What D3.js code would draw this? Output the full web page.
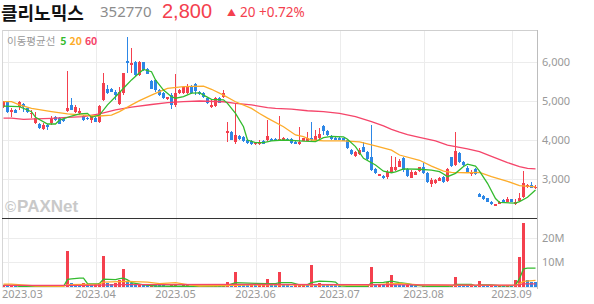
<!DOCTYPE html>
<html>
<head>
<meta charset="utf-8">
<title>클리노믹스 chart</title>
<script src="https://cdn.jsdelivr.net/npm/d3@7"></script>
<style>
  body { margin: 0; background: #fff; }
  svg { display: block; font-family: "Noto Sans", "Noto Sans CJK KR", sans-serif; }
  .axis text { fill: #999; font-size: 11px; }
</style>
</head>
<body>
<svg id="chart"></svg>
<script>
// daily candles, 2023-02-28 .. 2023-09-11 (one entry per trading day)
var opens = [4850,4980,4730,4770,4840,4920,4810,4670,4430,4410,4280,4380,4430,4600,4560,4530,4740,4900,4730,4680,
  4620,4570,4510,4560,4470,5030,5320,5300,5240,4920,5200,6030,5920,6010,5670,6000,5820,5520,5540,5280,
  5200,5040,5150,4900,5200,5200,5200,5380,5430,5240,5200,5070,4840,4870,5070,5090,4190,4210,3960,4100,
  4070,4000,3980,3900,3900,3970,4000,4030,4030,3990,4000,4030,4020,3960,3890,3980,3980,4040,4000,4040,
  4360,4240,4100,4060,4060,4040,4000,3740,3590,3640,3830,3700,3560,3250,3080,3080,3060,3190,3230,3320,
  3530,3250,3030,3100,3210,3320,3150,2870,2890,2960,3040,2960,3560,3360,3660,3440,3270,3130,3250,2610,
  2560,2500,2420,2310,2360,2460,2420,2480,2350,2440,2530,2790,2850,2760];
var highs = [5010,5010,4810,4790,5010,4940,4830,4770,4730,4430,4430,4410,4620,4620,4580,4550,5780,5070,4900,4810,
  4640,4590,4640,4580,4900,5730,5410,5340,5280,5370,5730,6630,6350,6030,6020,6010,5840,5540,5560,5300,
  5220,5110,5200,5690,5300,5370,5440,5400,5450,5260,5220,5090,5040,5090,5090,5270,4470,4230,4940,4130,
  4090,4020,4000,3950,4000,3990,4510,4040,4040,4620,4070,4040,4040,3970,4340,4060,4210,4470,4260,4300,
  4380,4250,4130,4080,4080,4060,4020,3760,3710,3790,3960,3730,4380,3270,3140,3100,3230,3590,3560,3500,
  3570,3270,3230,3200,3320,3400,3170,3020,2990,3040,3080,3270,3570,4210,3700,3460,3330,3230,3270,2640,
  2580,2510,2440,2370,2430,2480,2530,2490,2480,2650,3210,2870,2930,2850];
var lows = [4810,4680,4600,4680,4770,4730,4700,4560,4400,4280,4260,4260,4380,4490,4400,4470,4730,4770,4680,4640,
  4490,4510,4430,4450,4440,5000,5170,5220,5030,4900,5150,5710,5710,5650,5650,5780,5690,5300,5240,5130,
  5050,5020,4790,4850,5180,5180,5190,5180,5150,5160,5070,4910,4830,4850,4940,5070,3960,3990,3910,4000,
  3950,3910,3880,3880,3870,3900,3970,3970,3990,3980,3990,3970,3910,3890,3870,3970,3970,3980,3990,4020,
  4130,4110,4000,3990,3990,3970,3760,3620,3570,3620,3680,3490,3210,3140,3070,3000,2990,3170,3210,3300,
  3190,3060,3020,3090,3190,3130,2910,2790,2870,2950,2910,2930,3320,3330,3420,3340,3170,3080,3110,2530,
  2460,2400,2340,2300,2350,2380,2400,2400,2340,2420,2500,2770,2770,2740];
var closes = [4980,4730,4770,4700,4980,4840,4730,4700,4560,4300,4380,4340,4530,4510,4420,4490,4830,4770,4840,4750,
  4510,4530,4620,4470,4870,5450,5210,5240,5150,5240,5710,5970,5980,5670,5990,5790,5700,5320,5280,5150,
  5070,5090,4900,5210,5280,5350,5370,5200,5260,5180,5090,4940,4900,5070,4960,5200,4240,4000,4130,4020,
  3970,3930,3900,3930,3930,3910,4090,3980,4000,4030,4060,3980,3930,3900,3960,4040,4040,4000,4090,4150,
  4240,4130,4020,4000,4000,3980,3790,3640,3700,3740,3700,3500,3230,3160,3130,3020,3190,3320,3320,3470,
  3230,3080,3190,3190,3300,3150,2930,2970,2970,3020,2930,3250,3330,3730,3440,3360,3190,3190,3130,2550,
  2480,2420,2360,2360,2420,2390,2480,2420,2400,2500,2910,2850,2780,2800];
// volume in millions of shares
var volumes = [0.9,0.7,0.8,0.6,0.2,0.3,0.2,0.2,0.3,0.2,0.2,0.3,0.2,0.2,0.3,0.2,14.7,1.6,1.4,1.2,
  1.5,1.3,1.0,1.2,1.8,12.6,1.5,1.4,1.6,2.8,7.3,2.2,1.5,1.2,1.3,1.2,0.9,1.1,1.0,0.8,
  0.7,0.6,0.8,1.0,0.6,0.7,0.9,0.6,0.5,0.4,0.4,0.3,0.3,0.4,0.3,0.4,2.0,1.2,6.1,1.0,
  0.9,0.8,0.9,0.7,0.8,0.9,3.4,0.8,0.7,6.1,0.8,0.7,0.6,0.7,0.9,1.3,1.0,8.8,1.2,1.6,
  1.1,1.0,0.9,0.8,0.3,0.2,0.3,0.2,0.3,0.2,0.3,0.3,8.1,0.9,1.0,0.8,2.0,4.7,1.0,0.9,
  0.8,0.9,0.7,0.3,0.2,0.3,0.3,0.2,0.3,0.2,0.3,0.4,0.6,4.0,0.8,0.6,0.5,0.6,0.4,2.4,
  0.8,0.6,0.7,0.5,0.6,0.5,0.6,0.5,2.7,12.0,26.0,2.7,2.2,2.0];

// moving averages: [day index, value]
var ma5Points = [[0,4870],[4,4855],[7,4726],[8,4580],[11,4410],[13,4410],[14,4510],[17,4615],[19,4667],[21,4684],
  [22,4580],[24,4640],[26,4900],[28,5110],[30,5325],[32,5540],[34,5725],[35,5810],[37,5750],[38,5540],
  [40,5280],[42,5110],[43,5070],[45,5110],[47,5200],[49,5210],[50,5150],[52,5040],[55,5030],[56,4940],
  [58,4680],[60,4340],[61,4000],[63,3930],[65,3930],[67,3980],[70,4000],[75,3970],[78,3960],[80,4060],
  [82,4090],[85,4080],[86,4020],[88,3830],[90,3530],[93,3360],[95,3200],[97,3160],[98,3180],[100,3260],
  [104,3250],[107,3230],[109,3190],[110,3130],[111,3060],[113,3145],[115,3320],[116,3380],[118,3330],[119,3200],
  [121,2890],[123,2500],[124,2400],[128,2380],[129,2420],[131,2530],[133,2720]];
var ma20Points = [[0,4983],[2,4983],[4,4900],[7,4810],[12,4726],[16,4667],[20,4640],[24,4615],[27,4640],[29,4726],
  [32,4900],[34,5010],[37,5150],[39,5240],[41,5325],[45,5370],[50,5380],[52,5300],[55,5150],[58,4980],
  [62,4810],[64,4680],[66,4560],[70,4340],[73,4130],[75,4085],[77,4000],[80,3975],[85,3975],[89,3950],
  [93,3850],[97,3740],[99,3615],[104,3480],[107,3330],[110,3200],[112,3170],[116,3160],[119,3170],[122,3060],
  [126,2940],[129,2830],[133,2800]];
var ma60Points = [[0,4560],[2,4560],[5,4530],[8,4540],[12,4556],[16,4580],[20,4600],[24,4667],[28,4770],[32,4840],
  [37,4910],[41,4960],[45,4983],[49,5000],[55,4980],[58,4940],[62,4900],[66,4830],[68,4810],[72,4790],
  [76,4750],[80,4726],[84,4680],[88,4600],[92,4470],[95,4360],[97,4270],[99,4200],[101,4140],[104,4070],
  [108,3980],[111,3870],[116,3770],[119,3700],[122,3580],[126,3420],[129,3320],[131,3270],[133,3260]];

// volume moving averages (millions)
var vma5Points = [[0,0.7],[3,0.7],[4,0.2],[15,0.2],[16,3.1],[17,3.3],[19,3.6],[20,3.6],[21,1.4],[23,1.3],
  [24,1.4],[25,3.2],[28,3.0],[29,3.4],[30,3.6],[31,2.9],[32,1.8],[35,0.9],[38,0.4],[42,0.3],
  [50,0.3],[55,0.4],[56,0.7],[58,1.8],[63,1.5],[66,1.4],[68,1.4],[69,1.8],[72,1.8],[74,0.9],
  [76,1.0],[77,1.8],[79,2.4],[82,2.2],[83,2.0],[84,0.5],[86,0.3],[91,0.3],[92,1.8],[95,1.9],
  [97,2.4],[99,1.8],[101,1.4],[103,0.7],[106,0.3],[111,0.3],[112,0.4],[113,1.1],[117,1.1],[118,0.5],
  [119,0.9],[122,0.9],[124,0.5],[127,0.5],[128,0.8],[129,3.4],[130,7.4],[131,7.7],[133,7.7]];
var vma20Points = [[0,1.2],[2,1.2],[8,0.4],[15,0.3],[16,1.0],[24,1.2],[25,2.0],[31,2.3],[36,2.0],[39,1.4],
  [43,1.8],[46,1.0],[49,0.4],[58,0.7],[66,0.9],[91,0.8],[95,1.2],[99,1.5],[104,0.9],[112,0.7],
  [121,0.7],[128,0.7],[129,1.4],[130,2.3],[133,2.7]];
var vma60Points = [[0,0.7],[20,0.7],[30,1.0],[60,1.1],[90,1.0],[120,0.8],[128,0.8],[129,1.0],[130,1.3],[133,1.3]];

// axis ticks
var monthIdx = [1, 23, 43, 63, 84, 105, 127];
var monthLabels = ["2023.03", "2023.04", "2023.05", "2023.06", "2023.07", "2023.08", "2023.09"];
var priceTicks = [3000, 4000, 5000, 6000];
var volTicks = [10, 20];

var RED = "#f4404e", BLUE = "#2d87e6";
var C5 = "#33bb2e", C20 = "#fdac2a", C60 = "#f5456a";

var w = 594, h = 304;
var left = 2, right = 537;
var pTop = 30, pBottom = 218, vBottom = 287;

var svg = d3.select("#chart").attr("width", w).attr("height", h);

var x = d3.scaleBand().domain(d3.range(opens.length)).range([left, right]).paddingInner(0.25);
function cx(i) { return x(i) + x.bandwidth() / 2; }
var y = d3.scaleLinear().domain([2000, 6820]).range([pBottom, pTop]);
var vy = d3.scaleLinear().domain([0, 28]).range([vBottom, pBottom]);

// clip paths
svg.append("clipPath").attr("id", "pclip").append("rect")
  .attr("x", left).attr("y", pTop).attr("width", right - left).attr("height", pBottom - pTop);
svg.append("clipPath").attr("id", "vclip").append("rect")
  .attr("x", left).attr("y", pBottom).attr("width", right - left).attr("height", vBottom - pBottom);

// grid
var grid = svg.append("g").attr("stroke", "#ececec").attr("shape-rendering", "crispEdges");
grid.selectAll(".hp").data(priceTicks).enter().append("line")
  .attr("x1", left).attr("x2", right).attr("y1", function(d) { return Math.round(y(d)) + 0.5; })
  .attr("y2", function(d) { return Math.round(y(d)) + 0.5; });
grid.selectAll(".hv").data(volTicks).enter().append("line")
  .attr("x1", left).attr("x2", right).attr("y1", function(d) { return Math.round(vy(d)) + 0.5; })
  .attr("y2", function(d) { return Math.round(vy(d)) + 0.5; });
grid.selectAll(".vx").data(monthIdx).enter().append("line")
  .attr("x1", function(d) { return Math.round(cx(d)) + 0.5; })
  .attr("x2", function(d) { return Math.round(cx(d)) + 0.5; })
  .attr("y1", pTop).attr("y2", vBottom);

// watermark
var wm = svg.append("text").attr("x", 5).attr("y", 212).attr("fill", "#c9c9c9")
  .style("font-family", "Arial, 'Liberation Sans', sans-serif").style("font-weight", "bold");
wm.append("tspan").style("font-size", "15px").text("©");
wm.append("tspan").style("font-size", "17px").attr("dx", 1).text("PAXNet");

// candles
var candles = svg.append("g").attr("clip-path", "url(#pclip)").attr("shape-rendering", "crispEdges");
var idx = d3.range(opens.length);
function candleColor(i) { return closes[i] >= opens[i] ? RED : BLUE; }
candles.selectAll(".wick").data(idx).enter().append("line")
  .attr("x1", function(i) { return Math.floor(cx(i)) + 0.5; })
  .attr("x2", function(i) { return Math.floor(cx(i)) + 0.5; })
  .attr("y1", function(i) { return y(highs[i]); })
  .attr("y2", function(i) { return y(lows[i]); })
  .attr("stroke", candleColor);
candles.selectAll(".body").data(idx).enter().append("rect")
  .attr("x", function(i) { return Math.floor(cx(i)) - 1; })
  .attr("width", 3)
  .attr("y", function(i) { return y(Math.max(opens[i], closes[i])); })
  .attr("height", function(i) { return Math.max(1, Math.abs(y(opens[i]) - y(closes[i]))); })
  .attr("fill", candleColor);

// moving average lines
var line = d3.line().x(function(d) { return cx(d[0]); }).y(function(d) { return y(d[1]); });
var maG = svg.append("g").attr("clip-path", "url(#pclip)").attr("fill", "none").attr("stroke-width", 1.3);
maG.append("path").attr("d", line(ma60Points)).attr("stroke", C60);
maG.append("path").attr("d", line(ma20Points)).attr("stroke", C20);
maG.append("path").attr("d", line(ma5Points)).attr("stroke", C5);

// volume bars, red when volume rose from the day before
var vols = svg.append("g").attr("clip-path", "url(#vclip)").attr("shape-rendering", "crispEdges");
vols.selectAll("rect").data(idx).enter().append("rect")
  .attr("x", function(i) { return Math.floor(cx(i)) - 1; })
  .attr("width", 3)
  .attr("y", function(i) { return vy(volumes[i]); })
  .attr("height", function(i) { return vBottom - vy(volumes[i]); })
  .attr("fill", function(i) { return (i == 0 || volumes[i] >= volumes[i - 1]) ? RED : BLUE; });

var vline = d3.line().x(function(d) { return cx(d[0]); }).y(function(d) { return vy(d[1]); });
var vmaG = svg.append("g").attr("clip-path", "url(#vclip)").attr("fill", "none").attr("stroke-width", 1.3);
vmaG.append("path").attr("d", vline(vma5Points)).attr("stroke", C5);
vmaG.append("path").attr("d", vline(vma20Points)).attr("stroke", C20);
vmaG.append("path").attr("d", vline(vma60Points)).attr("stroke", C60);

// frame
var frame = svg.append("g").attr("shape-rendering", "crispEdges");
frame.append("line").attr("x1", left).attr("x2", right).attr("y1", pTop + 0.5).attr("y2", pTop + 0.5).attr("stroke", "#cfcfcf");
frame.append("line").attr("x1", left + 0.5).attr("x2", left + 0.5).attr("y1", pTop).attr("y2", vBottom).attr("stroke", "#d6d6d6");
frame.append("line").attr("x1", right + 0.5).attr("x2", right + 0.5).attr("y1", pTop).attr("y2", vBottom + 2).attr("stroke", "#bdbdbd");
frame.append("line").attr("x1", left).attr("x2", right).attr("y1", pBottom + 0.5).attr("y2", pBottom + 0.5).attr("stroke", "#333");
frame.append("line").attr("x1", left).attr("x2", right).attr("y1", vBottom + 0.5).attr("y2", vBottom + 0.5).attr("stroke", "#e6e6e6");

// axes
svg.append("g").attr("class", "axis").attr("transform", "translate(" + right + ",0)")
  .call(d3.axisRight(y).tickValues(priceTicks).tickSize(0).tickPadding(5).tickFormat(d3.format(",")))
  .call(function(g) { g.select(".domain").remove(); });
svg.append("g").attr("class", "axis").attr("transform", "translate(" + right + ",0)")
  .call(d3.axisRight(vy).tickValues(volTicks).tickSize(0).tickPadding(5).tickFormat(function(d) { return d + "M"; }))
  .call(function(g) { g.select(".domain").remove(); });
var xAxis = svg.append("g").attr("class", "axis").attr("transform", "translate(0," + vBottom + ")")
  .call(d3.axisBottom(x).tickValues(monthIdx).tickSize(0).tickPadding(3)
    .tickFormat(function(d, i) { return monthLabels[i]; }))
  .call(function(g) { g.select(".domain").remove(); });
// first label would run off the left edge
xAxis.select(".tick text").attr("text-anchor", "start").attr("x", left - cx(monthIdx[0]));
svg.selectAll(".axis text").style("font-family", "'Noto Sans', sans-serif");

// legend
var legend = svg.append("text").attr("x", 7).attr("y", 45).style("font-size", "10.5px")
  .style("font-family", "'Noto Sans CJK KR', sans-serif");
legend.append("tspan").attr("fill", "#999").text("이동평균선");
legend.append("tspan").attr("dx", 5).attr("fill", C5).style("font-weight", "bold").text("5");
legend.append("tspan").attr("dx", 3).attr("fill", C20).style("font-weight", "bold").text("20");
legend.append("tspan").attr("dx", 3).attr("fill", C60).style("font-weight", "bold").text("60");

// header
var last = closes[closes.length - 1], prev = closes[closes.length - 2];
var diff = last - prev;
svg.append("text").attr("x", 1).attr("y", 20).attr("fill", "#111")
  .style("font-family", "'Noto Sans CJK KR', sans-serif").style("font-size", "18px").style("font-weight", "bold")
  .text("클리노믹스");
svg.append("text").attr("x", 100).attr("y", 17).attr("fill", "#8c8c8c").style("font-size", "15px").text("352770");
svg.append("text").attr("x", 162).attr("y", 18).attr("fill", RED)
  .style("font-family", "'Liberation Sans', Arial, sans-serif").style("font-size", "20px")
  .text(d3.format(",")(last));
svg.append("text").attr("x", 227).attr("y", 16).attr("fill", RED).style("font-size", "9px").text("▲");
svg.append("text").attr("x", 240).attr("y", 17).attr("fill", RED).style("font-size", "13.5px")
  .text(diff + " +" + (diff / prev * 100).toFixed(2) + "%");
</script>
</body>
</html>
